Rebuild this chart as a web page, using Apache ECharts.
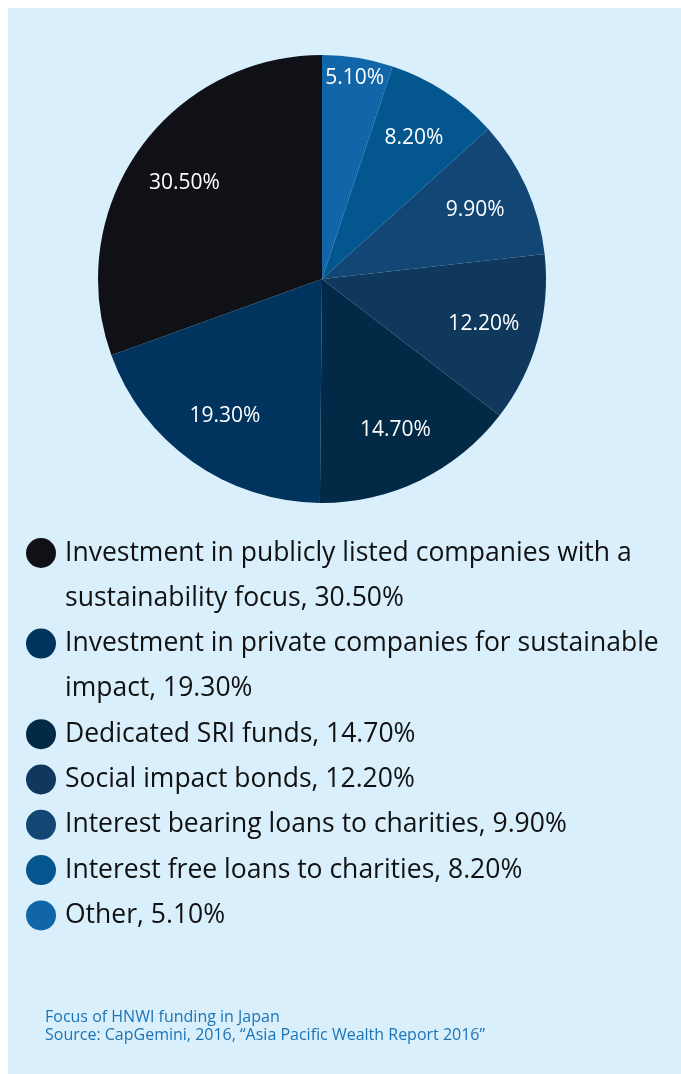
<!DOCTYPE html>
<html>
<head>
<meta charset="utf-8">
<script src="https://cdn.jsdelivr.net/npm/echarts@6/dist/echarts.min.js"></script>
<style>
  html, body { margin: 0; padding: 0; background: #ffffff; }
  #panel { position: absolute; left: 8px; top: 8px; width: 673px; height: 1066px; background: #d9effc; }
  #chart { width: 673px; height: 1066px; }
</style>
</head>
<body>
<div id="panel"><div id="chart"></div></div>
<script>
// Focus of HNWI funding in Japan (share of funding, %)
const categories = [
  'Investment in publicly listed companies with a sustainability focus',
  'Investment in private companies for sustainable impact',
  'Dedicated SRI funds',
  'Social impact bonds',
  'Interest bearing loans to charities',
  'Interest free loans to charities',
  'Other'
];
const shares = [30.5, 19.3, 14.7, 12.2, 9.9, 8.2, 5.1];
const palette = ['#0f1117', '#00335e', '#022945', '#0f385c', '#114675', '#04568e', '#1165a9'];
const captionTitle = 'Focus of HNWI funding in Japan';
const captionSource = 'Source: CapGemini, 2016, \u201cAsia Pacific Wealth Report 2016\u201d';

const FONT = '"Open Sans", "Noto Sans", sans-serif';
const fmtPct = v => v.toFixed(2) + '%';

const center = [314, 271];
const outerR = 224;

const sliceData = categories.map((name, i) => ({
  name, value: shares[i], itemStyle: { color: palette[i] }
}));

// label-only rings so the percentages sit further out than the slice middle
const labelRing = categories.map((name, i) => ({
  name, value: shares[i],
  label: { show: shares[i] >= 6 }
}));
const smallLabelRing = categories.map((name, i) => ({
  name, value: shares[i],
  label: { show: shares[i] < 6 }
}));

// Legend: circle marker + wrapped text, laid out line by line
const legendFontSize = 26.5;
const legendLineH = 45.3;
const legendWrap = 612;
const ctx = document.createElement('canvas').getContext('2d');
ctx.font = legendFontSize + 'px ' + FONT;
function wrapText(text) {
  const words = text.split(' ');
  const lines = [];
  let cur = '';
  words.forEach(w => {
    const trial = cur ? cur + ' ' + w : w;
    if (cur && ctx.measureText(trial).width > legendWrap) {
      lines.push(cur);
      cur = w;
    } else {
      cur = trial;
    }
  });
  if (cur) lines.push(cur);
  return lines;
}
const legendElems = [];
let lineY = 545;
categories.forEach((name, i) => {
  const lines = wrapText(name + ', ' + fmtPct(shares[i]));
  legendElems.push({
    type: 'circle',
    shape: { cx: 33, cy: lineY, r: 15 },
    style: { fill: palette[i] },
    silent: true
  });
  legendElems.push({
    type: 'text',
    x: 57,
    y: lineY - legendLineH / 2,
    style: {
      text: lines.join('\n'),
      font: legendFontSize + 'px ' + FONT,
      fill: '#111111',
      lineHeight: legendLineH,
      verticalAlign: 'top',
      align: 'left'
    },
    silent: true
  });
  lineY += lines.length * legendLineH;
});

const labelStyle = {
  position: 'inside',
  color: '#ffffff',
  fontFamily: FONT,
  fontSize: 21,
  formatter: p => fmtPct(p.value)
};

const chart = echarts.init(document.getElementById('chart'), null, { renderer: 'canvas' });
chart.setOption({
  animation: false,
  backgroundColor: 'transparent',
  title: {
    text: captionTitle,
    subtext: captionSource,
    left: 29,
    top: 1000,
    itemGap: 0,
    padding: [0, 8],
    textStyle: { fontFamily: FONT, fontSize: 16, fontWeight: 'normal', color: '#1b74b6', lineHeight: 18 },
    subtextStyle: { fontFamily: FONT, fontSize: 16, color: '#1b74b6', lineHeight: 18 }
  },
  series: [
    {
      type: 'pie',
      center: center,
      radius: [0, outerR],
      startAngle: 90,
      clockwise: false,
      label: { show: false },
      labelLine: { show: false },
      itemStyle: { borderWidth: 0 },
      emphasis: { disabled: true },
      silent: true,
      data: sliceData
    },
    {
      type: 'pie',
      center: center,
      radius: [106, outerR],
      startAngle: 90,
      clockwise: false,
      itemStyle: { color: 'rgba(0,0,0,0)', borderWidth: 0 },
      label: labelStyle,
      labelLine: { show: false },
      emphasis: { disabled: true },
      silent: true,
      data: labelRing
    },
    {
      type: 'pie',
      center: center,
      radius: [178, outerR],
      startAngle: 90,
      clockwise: false,
      itemStyle: { color: 'rgba(0,0,0,0)', borderWidth: 0 },
      label: labelStyle,
      labelLine: { show: false },
      emphasis: { disabled: true },
      silent: true,
      data: smallLabelRing
    }
  ],
  graphic: { elements: legendElems }
});
</script>
</body>
</html>
